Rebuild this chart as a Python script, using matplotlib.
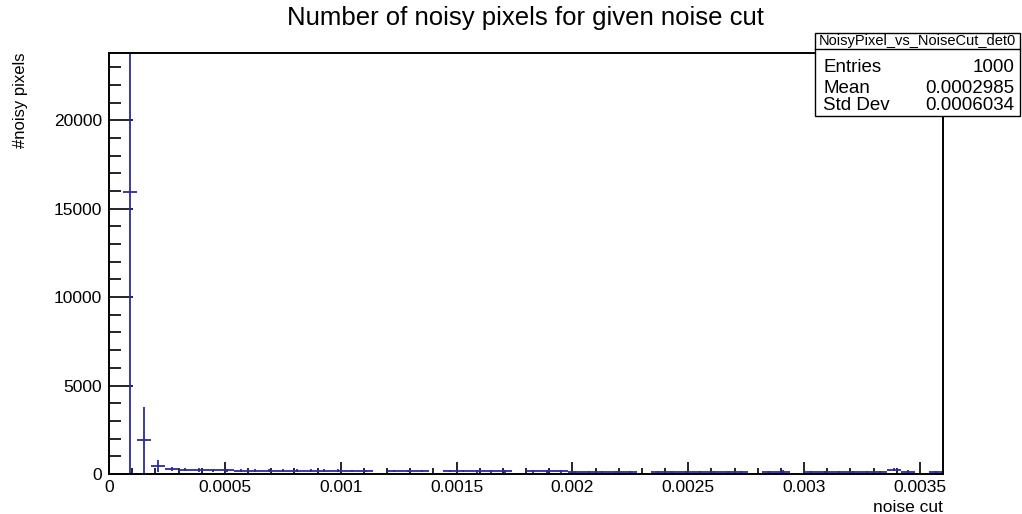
import numpy as np
import matplotlib
matplotlib.use("Agg")
import matplotlib.pyplot as plt
from matplotlib.ticker import MultipleLocator, FixedLocator, FixedFormatter

# Histogram: 60 bins on [0, 0.0036]
x_min, x_max, n_bins = 0.0, 0.0036, 60
counts = [
    8, 15950, 1920, 450, 300, 250, 230, 210, 200, 190,
    190, 180, 180, 180, 180, 175, 175, 170, 170, 0,
    170, 165, 165, 0, 165, 165, 160, 160, 160, 0,
    160, 160, 155, 90, 90, 90, 90, 120, 0, 110,
    110, 110, 110, 110, 110, 110, 0, 110, 140, 0,
    110, 110, 110, 110, 110, 110, 250, 140, 0, 120,
]
errors = [
    0, 16500, 1880, 340, 120, 100, 90, 80, 80, 80,
    80, 80, 80, 80, 80, 80, 80, 80, 80, 0,
    80, 80, 80, 0, 80, 80, 80, 80, 80, 0,
    80, 80, 80, 60, 60, 60, 60, 70, 0, 60,
    60, 60, 60, 60, 60, 60, 0, 60, 70, 0,
    60, 60, 60, 60, 60, 60, 100, 70, 0, 60,
]

x_ticks = [0, 0.0005, 0.001, 0.0015, 0.002, 0.0025, 0.003, 0.0035]
x_tick_labels = ["0", "0.0005", "0.001", "0.0015", "0.002", "0.0025", "0.003", "0.0035"]
y_ticks = [0, 5000, 10000, 15000, 20000]
y_tick_labels = ["0", "5000", "10000", "15000", "20000"]

stats_name = "NoisyPixel_vs_NoiseCut_det0"
stats_rows = [("Entries", "1000"), ("Mean", "0.0002985"), ("Std Dev", "0.0006034")]

plt.rcParams["font.family"] = ["Liberation Sans", "DejaVu Sans"]

W, H, DPI = 1022, 514, 100
fig = plt.figure(figsize=(W / DPI, H / DPI), dpi=DPI)
ax = fig.add_axes([109 / W, 1 - 474 / H, (943 - 109) / W, (474 - 53) / H])

edges = np.linspace(x_min, x_max, n_bins + 1)
centers = 0.5 * (edges[:-1] + edges[1:])
half_w = 0.5 * (edges[1] - edges[0])
c = np.array(counts, dtype=float)
e = np.array(errors, dtype=float)
keep = c > 0

blue = "#2a2aa8"
ax.errorbar(centers[keep], c[keep], xerr=half_w, yerr=e[keep], fmt="none",
            ecolor=blue, elinewidth=1.3, capsize=0, clip_on=True)

ax.set_xlim(x_min, x_max)
ax.set_ylim(0, 23800)

ax.xaxis.set_major_locator(FixedLocator(x_ticks))
ax.xaxis.set_major_formatter(FixedFormatter(x_tick_labels))
ax.xaxis.set_minor_locator(MultipleLocator(0.0001))
ax.yaxis.set_major_locator(FixedLocator(y_ticks))
ax.yaxis.set_major_formatter(FixedFormatter(y_tick_labels))
ax.yaxis.set_minor_locator(MultipleLocator(1000))

ax.tick_params(axis="x", which="major", direction="in", length=9, width=1.2,
               labelsize=12.5, pad=4, top=False)
ax.tick_params(axis="x", which="minor", direction="in", length=4.5, width=1.2, top=False)
ax.tick_params(axis="y", which="major", direction="in", length=17, width=1.2,
               labelsize=12.5, pad=5, right=False)
ax.tick_params(axis="y", which="minor", direction="in", length=8.5, width=1.2, right=False)

for s in ax.spines.values():
    s.set_linewidth(1.4)

fig.text(525 / W, 1 - 18 / H, "Number of noisy pixels for given noise cut",
         ha="center", va="center", fontsize=18.5)
fig.text(943 / W, 1 - 508 / H, "noise cut", ha="right", va="center", fontsize=12.5)
fig.text(21 / W, 1 - 53 / H, "#noisy pixels", ha="center", va="top",
         rotation=90, fontsize=12)

# Statistics box
bx0, bx1, by0, by_hdr, by1 = 815, 1020, 33, 49, 116
fig.patches.append(plt.Rectangle((bx0 / W, 1 - by1 / H), (bx1 - bx0) / W, (by1 - by0) / H,
                                 transform=fig.transFigure, facecolor="white",
                                 edgecolor="black", linewidth=1.0, zorder=5))
fig.add_artist(plt.Line2D([bx0 / W, bx1 / W], [1 - by_hdr / H, 1 - by_hdr / H],
                          transform=fig.transFigure, color="black", linewidth=1.0, zorder=6))
fig.text((bx0 + bx1) / 2 / W, 1 - (by0 + by_hdr) / 2 / H, stats_name,
         ha="center", va="center", fontsize=10.5, zorder=7)
row_y = [68, 88, 106]
for (k, v), yy in zip(stats_rows, row_y):
    fig.text((bx0 + 8) / W, 1 - yy / H, k, ha="left", va="center", fontsize=13.5, zorder=7)
    fig.text((bx1 - 6) / W, 1 - yy / H, v, ha="right", va="center", fontsize=13.5, zorder=7)

fig.savefig("out.png", dpi=DPI)
